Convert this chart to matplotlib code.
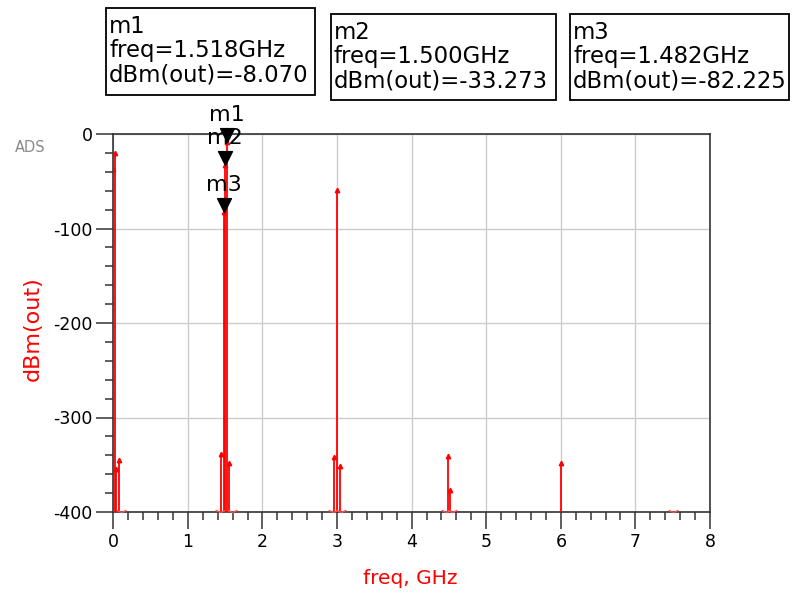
import numpy as np
import matplotlib.pyplot as plt
from matplotlib.path import Path
from matplotlib.patches import Rectangle
from matplotlib.ticker import MultipleLocator

plt.rcParams['font.family'] = ['DejaVu Sans']
plt.rcParams['axes.unicode_minus'] = False

# Harmonic-balance output spectrum: frequency (GHz) and level dBm(out)
freq = [0.0, 0.018, 0.036, 0.072, 1.446, 1.482, 1.500, 1.518, 1.554,
        2.964, 3.000, 3.036, 4.482, 4.518, 6.000]
dbm = [-37, -20, -354, -345, -339, -82.225, -33.273, -8.070, -348,
       -342, -59, -351, -341, -377, -348]
# tones that lie below the -400 dBm floor of the plot
below_freq = [0.108, 1.428, 1.590, 2.946, 3.054, 4.464, 4.545, 7.500]

# marker readouts
marker_names = ["m1", "m2", "m3"]
marker_freq = [1.518, 1.500, 1.482]
marker_dbm = [-8.070, -33.273, -82.225]

x_ticks = [0, 1, 2, 3, 4, 5, 6, 7, 8]
y_ticks = [-400, -300, -200, -100, 0]

W, H = 794, 595
fig = plt.figure(figsize=(W / 100, H / 100), dpi=100)


def fx(px):
    return px / W


def fy(py):
    return 1 - py / H


ax = fig.add_axes([fx(113.3), fy(512), fx(710) - fx(113.3), fy(134) - fy(512)])
ax.set_xlim(0, 8)
ax.set_ylim(-400, 0)

# spectral lines
ax.vlines(freq, -400, dbm, color='red', lw=1.3, zorder=3)
ax.plot(freq, dbm, ls='none', marker='^', ms=3.2, color='red', zorder=3)

# off-scale indicators
chev = Path([(-1, 0.45), (0, 0), (1, 0.45)], [Path.MOVETO, Path.LINETO, Path.LINETO])
ax.plot(below_freq, [-400] * len(below_freq), ls='none', marker=chev, ms=7,
        mfc='none', mec='#ff5050', mew=1.0, clip_on=False, zorder=3)

# marker triangles with names
tri = Path([(0, 0), (-0.5, 1), (0.5, 1), (0, 0)],
           [Path.MOVETO, Path.LINETO, Path.LINETO, Path.CLOSEPOLY])
for name, f, v in zip(marker_names, marker_freq, marker_dbm):
    ax.plot([f], [v], ls='none', marker=tri, ms=20, color='black',
            clip_on=False, zorder=5)
    ax.annotate(name, (f, v), xytext=(0, 19.5), textcoords='offset points',
                ha='center', va='center', fontsize=16, color='black',
                annotation_clip=False, zorder=6)

# grid, ticks, spines
ax.set_xticks(x_ticks)
ax.set_yticks(y_ticks)
ax.xaxis.set_minor_locator(MultipleLocator(0.2))
ax.yaxis.set_minor_locator(MultipleLocator(20))
ax.grid(True, which='major', color='#cccccc', lw=1.0)
ax.set_axisbelow(True)
ax.tick_params(which='major', length=12.5, width=1.1, color='#333333',
               labelsize=12.5, pad=2.5)
ax.tick_params(which='minor', length=6, width=1.1, color='#333333')
for s in ax.spines.values():
    s.set_color('#333333')
    s.set_linewidth(1.2)

# axis titles
fig.text(fx(33), fy(329), 'dBm(out)', rotation=90, color='red', fontsize=16,
         ha='center', va='center')
fig.text(fx(410), fy(578), 'freq, GHz', color='red', fontsize=14.5,
         ha='center', va='center')
fig.text(fx(15), fy(147), 'ADS', color='#8a8a8a', fontsize=10.5,
         ha='left', va='center')

# marker readout boxes
boxes = [(106, 8, 315, 95), (331, 14, 556, 100), (570, 14, 789, 100)]
for (l, t, r, b), name, f, v in zip(boxes, marker_names, marker_freq, marker_dbm):
    fig.patches.append(Rectangle((fx(l), fy(b)), fx(r) - fx(l), fy(t) - fy(b),
                                 transform=fig.transFigure, fill=False,
                                 ec='black', lw=1.3))
    lines = [name, f"freq={f:.3f}GHz", f"dBm(out)={v:.3f}"]
    for i, txt in enumerate(lines):
        fig.text(fx(l + 3), fy(t + 25 + 24.5 * i), txt, fontsize=16.4,
                 ha='left', va='baseline', color='black')

fig.savefig('out.png', dpi=100)
